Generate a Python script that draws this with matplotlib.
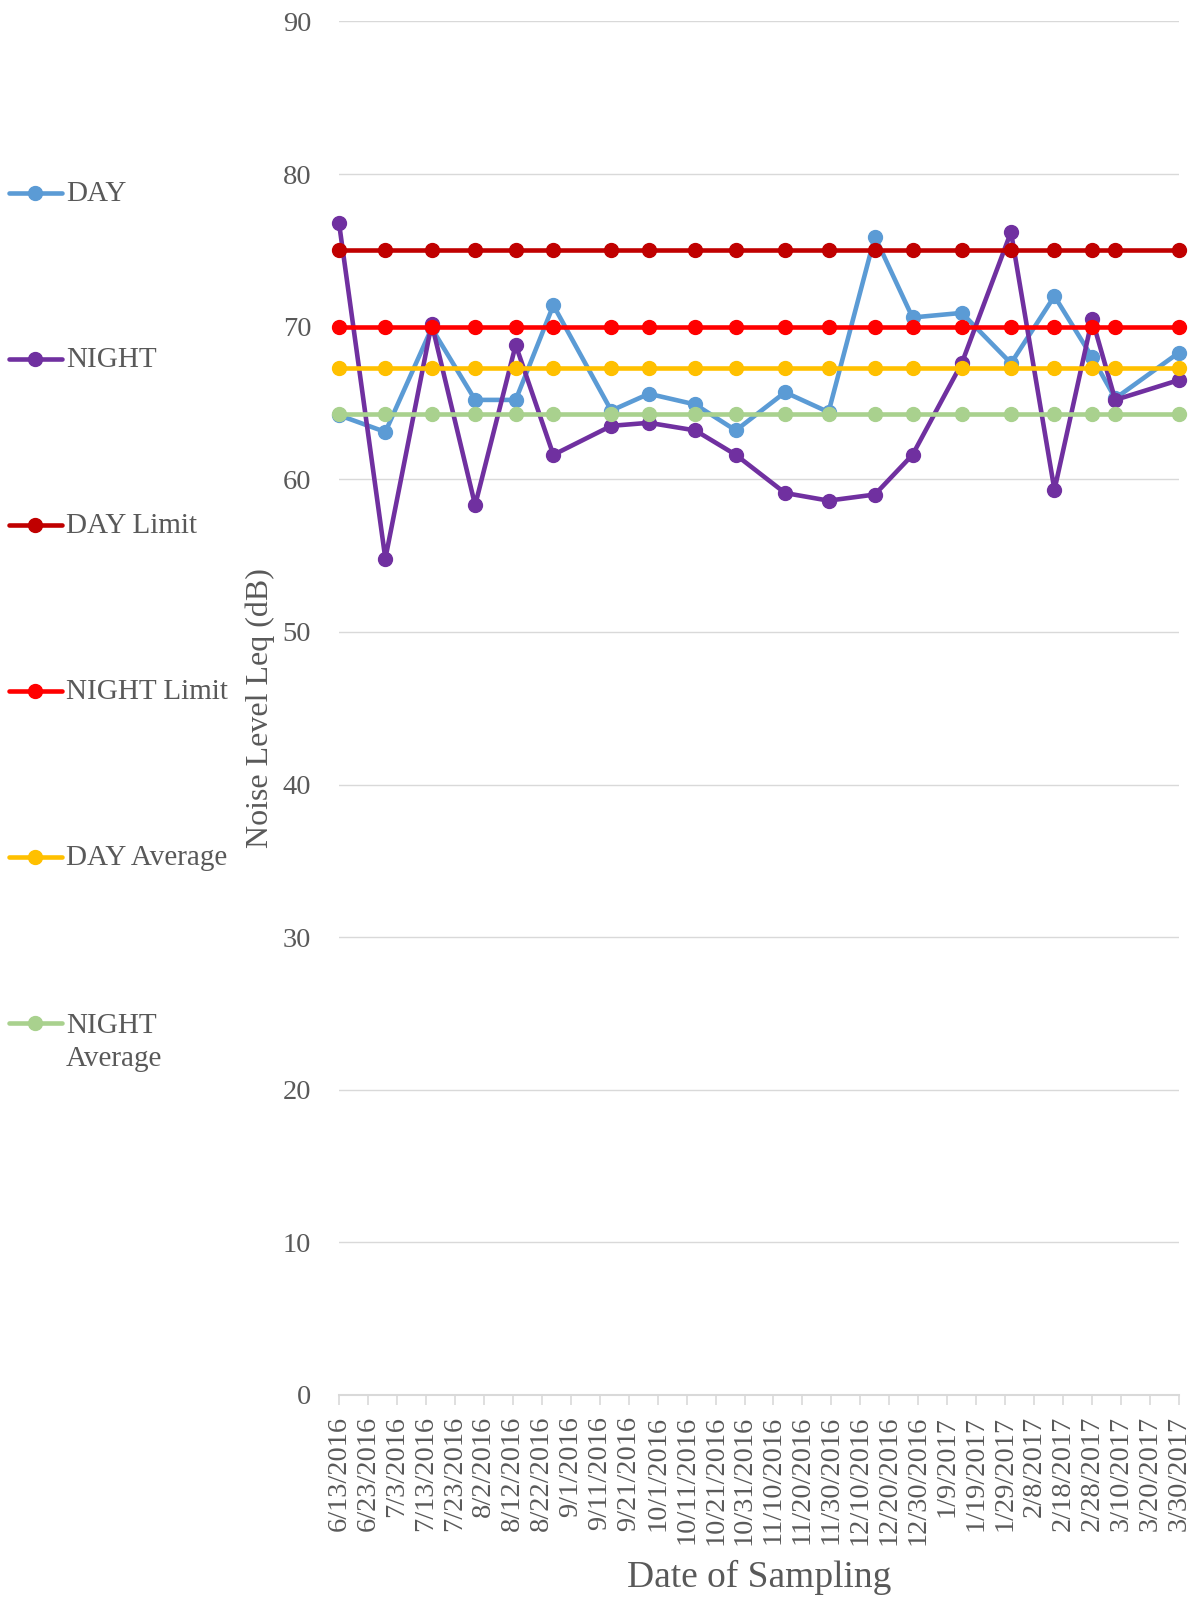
import matplotlib
matplotlib.use("Agg")
import matplotlib.pyplot as plt
from matplotlib.lines import Line2D
import pandas as pd

plt.rcParams['font.family'] = ['Liberation Serif', 'DejaVu Serif']

# ---- data ----
sample_dates = ["6/13/2016", "6/29/2016", "7/15/2016", "7/30/2016", "8/13/2016",
                "8/26/2016", "9/15/2016", "9/28/2016", "10/14/2016", "10/28/2016",
                "11/14/2016", "11/29/2016", "12/15/2016", "12/28/2016", "1/14/2017",
                "1/31/2017", "2/15/2017", "2/28/2017", "3/8/2017", "3/30/2017"]
day = [64.2, 63.1, 69.9, 65.2, 65.2, 71.4, 64.5, 65.6, 64.9, 63.2,
       65.7, 64.4, 75.9, 70.6, 70.9, 67.6, 72.0, 68.0, 65.3, 68.3]
night = [76.8, 54.8, 70.2, 58.3, 68.8, 61.6, 63.5, 63.7, 63.2, 61.6,
         59.1, 58.6, 59.0, 61.6, 67.6, 76.2, 59.3, 70.5, 65.2, 66.5]
day_limit = [75] * 20
night_limit = [70] * 20
day_average = [67.3] * 20
night_average = [64.3] * 20

tick_labels = ["6/13/2016", "6/23/2016", "7/3/2016", "7/13/2016", "7/23/2016",
               "8/2/2016", "8/12/2016", "8/22/2016", "9/1/2016", "9/11/2016",
               "9/21/2016", "10/1/2016", "10/11/2016", "10/21/2016", "10/31/2016",
               "11/10/2016", "11/20/2016", "11/30/2016", "12/10/2016", "12/20/2016",
               "12/30/2016", "1/9/2017", "1/19/2017", "1/29/2017", "2/8/2017",
               "2/18/2017", "2/28/2017", "3/10/2017", "3/20/2017", "3/30/2017"]
y_ticks = [0, 10, 20, 30, 40, 50, 60, 70, 80, 90]

series_names = ["DAY", "NIGHT", "DAY Limit", "NIGHT Limit", "DAY Average", "NIGHT\nAverage"]
series_colors = ["#5B9BD5", "#7030A0", "#C00000", "#FF0000", "#FFC000", "#A9D18E"]

# ---- figure ----
W, H = 1192, 1598
fig = plt.figure(figsize=(W / 100, H / 100), dpi=100)
ax = fig.add_axes([339 / W, 1 - 1395 / H, (1179 - 339) / W, (1395 - 21.4) / H])

x = pd.to_datetime(sample_dates, format="%m/%d/%Y")
xt = pd.to_datetime(tick_labels, format="%m/%d/%Y")

all_series = [day, night, day_limit, night_limit, day_average, night_average]
for vals, col, name in zip(all_series, series_colors, series_names):
    ax.plot(x, vals, color=col, lw=3.3, marker='o', ms=10, mec=col, mfc=col,
            label=name.replace("\n", " "), solid_capstyle='round', clip_on=False)

text_col = "#595959"
grid_col = "#D9D9D9"

ax.set_xlim(xt[0], xt[-1])
ax.set_ylim(0, 90)
ax.set_yticks(y_ticks)
ax.set_yticklabels([str(v) for v in y_ticks])
ax.set_xticks(xt)
ax.set_xticklabels(tick_labels, rotation=90, va='top', ha='center')

ax.tick_params(axis='y', length=0, pad=20, labelsize=20.5, labelcolor=text_col)
ax.tick_params(axis='x', length=7, width=1.2, color=grid_col, pad=8,
               labelsize=20.5, labelcolor=text_col)

ax.grid(axis='y', color=grid_col, lw=1.0)
ax.set_axisbelow(True)
for s in ['top', 'right', 'left']:
    ax.spines[s].set_visible(False)
ax.spines['bottom'].set_color(grid_col)
ax.spines['bottom'].set_linewidth(1.5)

fig.text(260 / W, 1 - 708 / H, "Noise Level Leq (dB)", fontsize=23, color=text_col,
         rotation=90, ha='center', va='center')
fig.text(759 / W, 1 - 1577 / H, "Date of Sampling", fontsize=27, color=text_col,
         ha='center', va='center')

# ---- legend (left) ----
for i, (name, col) in enumerate(zip(series_names, series_colors)):
    yc = 1 - (193 + 166 * i) / H
    fig.add_artist(Line2D([9 / W, 62 / W], [yc, yc], color=col, lw=3.3,
                          solid_capstyle='round', transform=fig.transFigure))
    fig.add_artist(Line2D([35 / W], [yc], color=col, marker='o', ms=10,
                          transform=fig.transFigure))
    if "\n" in name:
        fig.text(66 / W, yc + 10 / H, name, fontsize=21, color=text_col,
                 ha='left', va='top', linespacing=1.35)
    else:
        fig.text(66 / W, yc - 1 / H, name, fontsize=21, color=text_col,
                 ha='left', va='center')

fig.savefig("out.png", dpi=100)
